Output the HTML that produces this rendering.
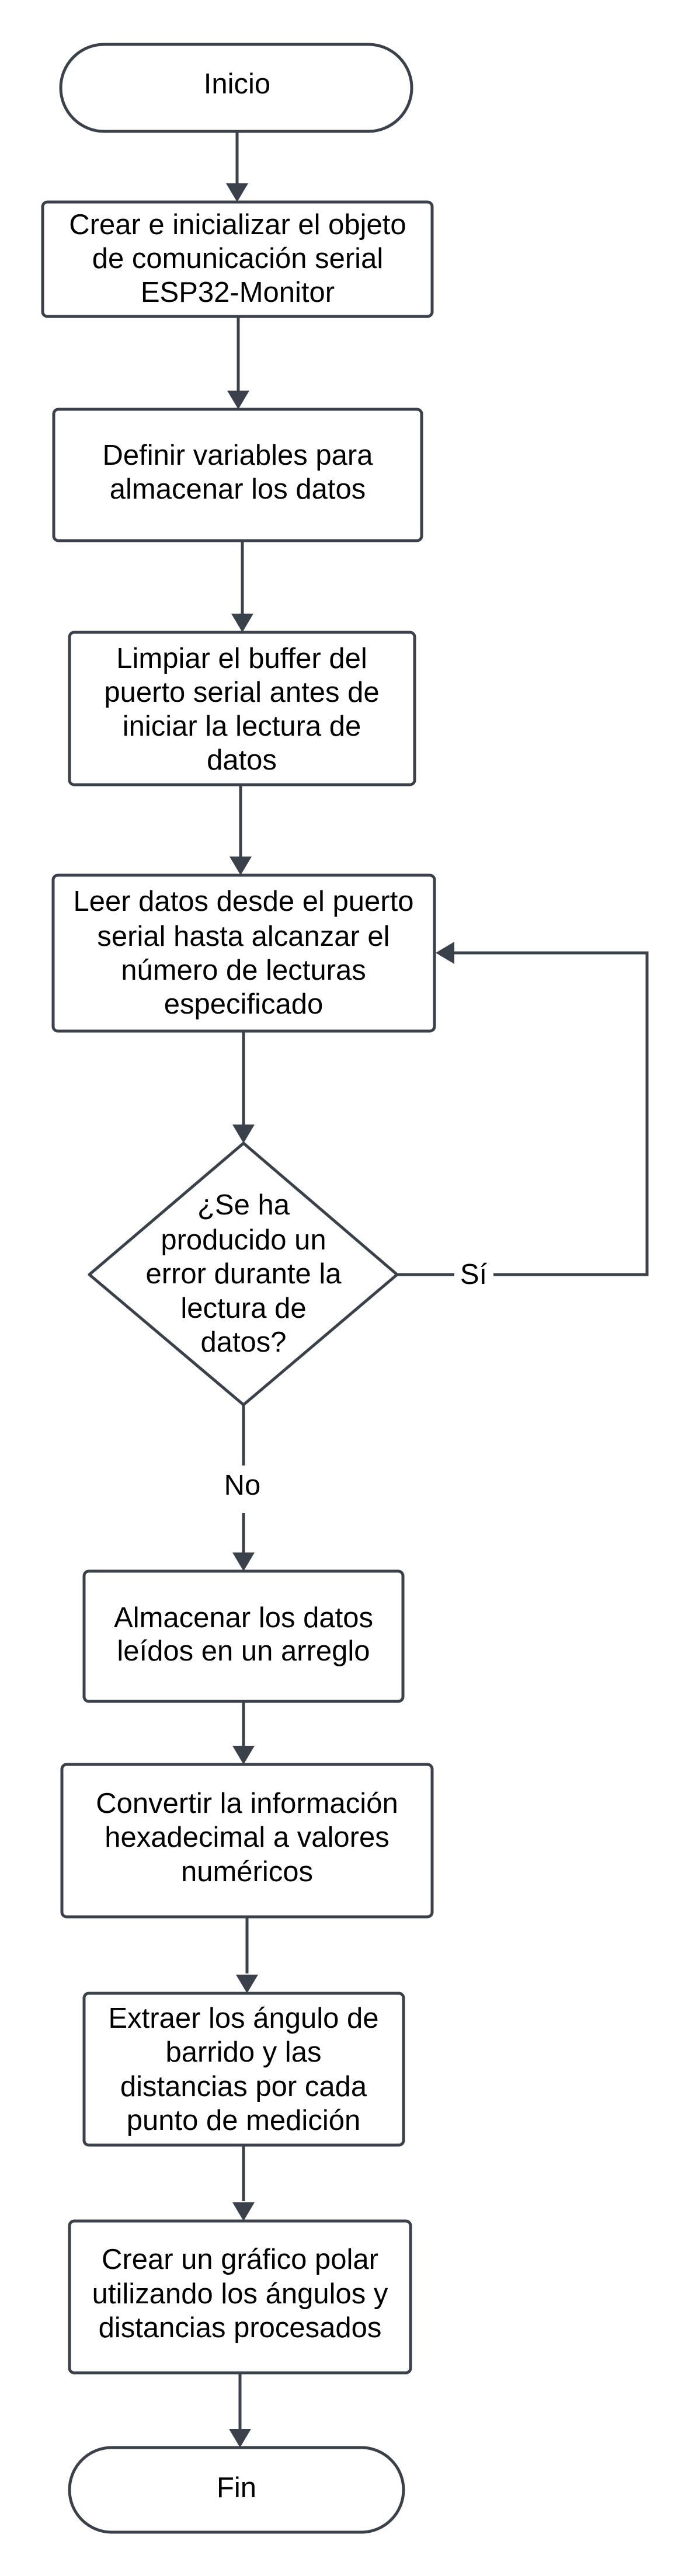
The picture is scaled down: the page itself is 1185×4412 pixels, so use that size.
<!DOCTYPE html>
<html><head><meta charset="utf-8"><style>html,body{margin:0;padding:0;background:#fff}svg{display:block}</style></head>
<body>
<svg width="1185" height="4412" viewBox="0 0 1185 4412" xmlns="http://www.w3.org/2000/svg">
<g fill="none" stroke="#3b414b" stroke-width="5">
<rect x="104" y="76" width="601" height="149" rx="74.5"/>
<rect x="73" y="346" width="667" height="196" rx="8"/>
<rect x="92" y="701" width="630" height="225" rx="8"/>
<rect x="119" y="1083" width="591" height="261" rx="8"/>
<rect x="91" y="1499" width="653" height="267" rx="8"/>
<path d="M417 1958 L680 2183 L417 2406 L153 2183 Z" stroke-linejoin="round"/>
<rect x="144" y="2691" width="546" height="223" rx="8"/>
<rect x="106" y="3022" width="634" height="261" rx="8"/>
<rect x="144" y="3414" width="547" height="260" rx="8"/>
<rect x="119" y="3804" width="584" height="260" rx="8"/>
<rect x="119" y="4192" width="572" height="145" rx="72.5"/>
<path d="M406 225 V316"/>
<path d="M408 542 V672"/>
<path d="M415 926 V1054"/>
<path d="M412 1344 V1470"/>
<path d="M417 1766 V1928"/>
<path d="M417 2406 V2510"/>
<path d="M417 2591 V2660"/>
<path d="M680 2183 H778"/>
<path d="M845 2183 H1108 V1632 H775"/>
<path d="M417 2914 V2990"/>
<path d="M423 3283 V3380"/>
<path d="M417 3674 V3770"/>
<path d="M411 4064 V4162"/>
</g>
<g fill="#3b414b">
<path d="M387 314 L425 314 L406 346 Z"/>
<path d="M389 669 L427 669 L408 701 Z"/>
<path d="M396 1051 L434 1051 L415 1083 Z"/>
<path d="M393 1467 L431 1467 L412 1499 Z"/>
<path d="M398 1926 L436 1926 L417 1958 Z"/>
<path d="M398 2659 L436 2659 L417 2691 Z"/>
<path d="M398 2990 L436 2990 L417 3022 Z"/>
<path d="M404 3382 L442 3382 L423 3414 Z"/>
<path d="M398 3772 L436 3772 L417 3804 Z"/>
<path d="M392 4160 L430 4160 L411 4192 Z"/>
<path d="M746 1632 L778 1613 L778 1651 Z"/>
</g>
<g style="font-family:'Liberation Sans',Arial,sans-serif" font-size="49" fill="#000" text-anchor="middle">
<text x="406" y="160">Inicio</text>
<text x="407" y="401">Crear e inicializar el objeto</text>
<text x="407" y="459">de comunicación serial</text>
<text x="407" y="517">ESP32-Monitor</text>
<text x="407" y="796">Definir variables para</text>
<text x="407" y="854">almacenar los datos</text>
<text x="414" y="1144">Limpiar el buffer del</text>
<text x="414" y="1202">puerto serial antes de</text>
<text x="414" y="1260">iniciar la lectura de</text>
<text x="414" y="1318">datos</text>
<text x="417" y="1560">Leer datos desde el puerto</text>
<text x="417" y="1620">serial hasta alcanzar el</text>
<text x="417" y="1678">número de lecturas</text>
<text x="417" y="1736">especificado</text>
<text x="417" y="2080">¿Se ha</text>
<text x="417" y="2140">producido un</text>
<text x="417" y="2198">error durante la</text>
<text x="417" y="2257">lectura de</text>
<text x="417" y="2315">datos?</text>
<text x="811" y="2199">Sí</text>
<text x="415" y="2560">No</text>
<text x="417" y="2787">Almacenar los datos</text>
<text x="417" y="2844">leídos en un arreglo</text>
<text x="423" y="3105">Convertir la información</text>
<text x="423" y="3163">hexadecimal a valores</text>
<text x="423" y="3222">numéricos</text>
<text x="417" y="3473">Extraer los ángulo de</text>
<text x="417" y="3531">barrido y las</text>
<text x="417" y="3590">distancias por cada</text>
<text x="417" y="3648">punto de medición</text>
<text x="411" y="3886">Crear un gráfico polar</text>
<text x="411" y="3945">utilizando los ángulos y</text>
<text x="411" y="4003">distancias procesados</text>
<text x="405" y="4277">Fin</text>
</g>
</svg>
</body></html>
